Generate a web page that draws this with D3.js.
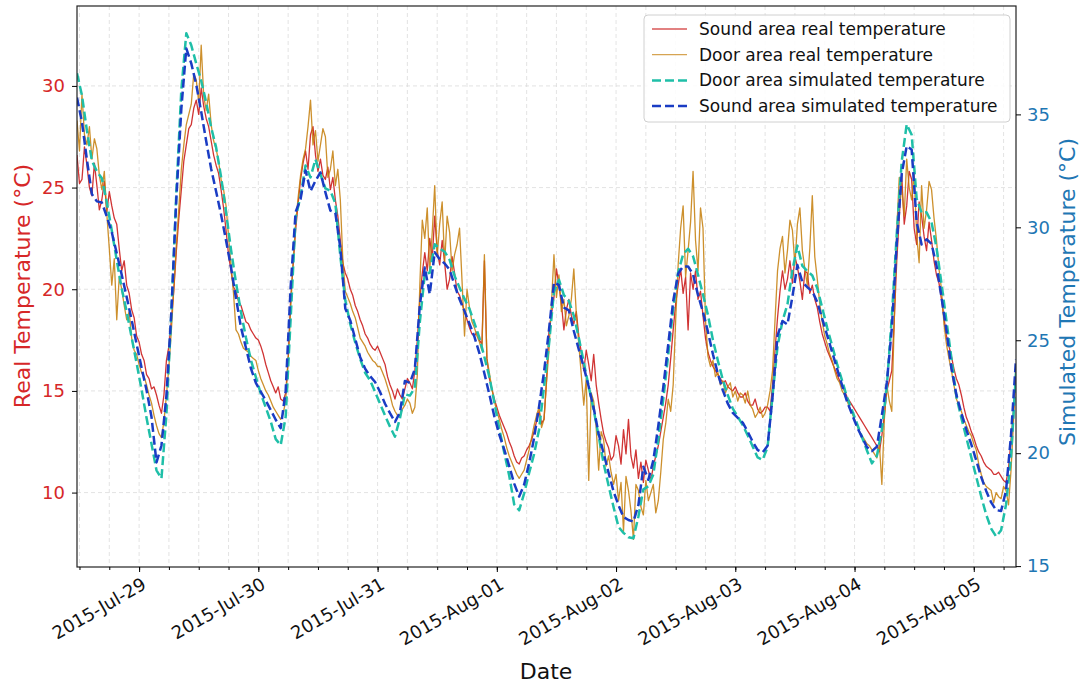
<!DOCTYPE html>
<html>
<head>
<meta charset="utf-8">
<script src="https://cdn.jsdelivr.net/npm/d3@7"></script>
<style>
  body { margin: 0; background: #fff; }
  svg, svg text { font-family: "DejaVu Sans", sans-serif; }
</style>
</head>
<body>
<svg width="1080" height="684"></svg>
<script>
// samples start 2015-07-28 11:30 (UTC); real every 30 min, simulated every hour
const startTime = Date.UTC(2015, 6, 28, 11, 30);
const endTime = Date.UTC(2015, 7, 5, 8, 30);
const realStepMin = 30;
const simStepMin = 60;

// real temperatures (left axis, °C)
const soundReal = [
  26.6, 25.2, 25.4, 27.0, 26.1, 25.0, 24.6, 26.2, 25.1, 23.9,
  24.4, 25.3, 23.8, 24.8, 24.1, 23.5, 23.2, 22.0, 20.9, 21.4,
  20.2, 19.8, 19.0, 18.6, 17.7, 17.4, 16.8, 16.5, 15.8, 15.6,
  15.1, 15.2, 14.8, 14.3, 13.9, 14.8, 16.5, 17.2, 18.5, 20.0,
  21.9, 23.5, 24.9, 26.3, 27.1, 27.9, 28.1, 28.9, 29.3, 28.6,
  29.9, 29.0, 28.4, 28.0, 27.3, 26.6, 26.1, 25.7, 24.9, 24.0,
  22.9, 21.7, 20.9, 20.1, 19.9, 19.4, 19.2, 18.8, 18.4, 18.3,
  18.0, 17.8, 17.6, 17.5, 17.2, 16.8, 16.3, 15.9, 15.5, 15.2,
  14.9, 15.2, 14.6, 14.5, 14.9, 16.5, 19.5, 21.2, 22.9, 24.2,
  25.4, 26.2, 26.8, 25.9, 27.6, 28.0, 26.6, 25.8, 26.4, 25.6,
  25.4, 26.0, 24.9, 25.5, 24.4, 23.6, 22.4, 21.3, 20.8, 20.5,
  20.0, 19.7, 19.2, 18.9, 18.5, 18.2, 17.8, 17.6, 17.3, 17.1,
  17.0, 17.2, 16.9, 16.6, 16.3, 15.7, 15.3, 15.0, 14.6, 15.1,
  14.8, 14.6, 15.1, 15.6, 15.4, 15.1, 16.0, 17.5, 19.5, 20.8,
  21.8, 20.9, 22.5, 21.5, 23.6, 21.9, 21.2, 22.4, 21.3, 20.0,
  20.5, 21.6, 20.8, 19.9, 19.7, 19.3, 18.9, 18.5, 18.1, 17.8,
  17.7, 17.9, 17.5, 17.3, 21.4, 16.6, 15.6, 15.1, 14.6, 14.2,
  13.8, 13.5, 13.2, 12.9, 12.5, 12.2, 11.8, 11.5, 11.4, 11.7,
  11.8, 12.1, 12.3, 12.6, 13.0, 13.5, 14.0, 13.4, 13.6, 15.5,
  18.0, 18.8, 19.6, 21.0, 20.2, 19.3, 18.0, 19.0, 19.5, 18.7,
  18.3, 18.9, 17.7, 16.9, 16.0, 17.0, 16.3, 15.5, 16.8, 15.3,
  14.4, 13.6, 12.9, 12.5, 12.2, 11.6, 11.8, 12.8, 12.3, 11.4,
  13.1, 11.9, 13.6, 11.8, 11.2, 12.1, 10.7, 11.5, 10.5, 11.6,
  11.1, 10.6, 11.3, 11.8, 12.3, 13.0, 13.7, 14.4, 15.3, 16.6,
  18.0, 19.3, 20.2, 21.0, 19.8, 20.6, 18.0, 20.8, 20.0, 20.9,
  19.5, 19.9, 18.7, 17.6, 16.9, 16.5, 16.2, 16.0, 15.8, 15.6,
  15.4, 15.5, 15.2, 15.1, 15.0, 15.2, 14.9, 14.7, 14.7, 14.9,
  14.5, 14.3, 14.3, 14.6, 14.1, 13.9, 14.0, 14.2, 14.2, 14.0,
  15.3, 17.0, 18.6, 19.9, 20.9, 20.0, 20.5, 21.4, 20.3, 21.6,
  21.1, 20.4, 19.5, 20.9, 20.8, 19.8, 20.2, 19.5, 19.1, 18.4,
  17.8, 17.4, 17.0, 16.7, 16.4, 16.1, 15.8, 15.5, 15.2, 15.0,
  14.7, 14.5, 14.3, 14.1, 13.9, 13.7, 13.5, 13.3, 13.1, 12.9,
  12.7, 12.5, 12.3, 12.0, 12.8, 13.8, 15.0, 15.5, 16.0, 18.5,
  21.4, 23.5, 25.6, 23.2, 24.1, 25.8, 25.4, 23.0, 22.2, 24.3,
  23.6, 22.6, 21.9, 23.3, 22.4, 21.4, 20.7, 20.3, 19.5, 18.6,
  17.7, 17.2, 16.7, 16.1, 15.6, 15.3, 14.8, 14.2, 13.7, 13.4,
  13.0, 12.7, 12.3, 12.0, 11.8, 11.5, 11.3, 11.2, 11.1, 10.9,
  10.9, 11.0, 10.8, 10.6, 10.5, 11.2, 12.6, 14.0, 16.0
];
const doorReal = [
  28.3, 26.8, 29.6, 27.6, 27.1, 28.0, 26.4, 27.4, 26.9, 25.6,
  24.9, 25.8, 23.7, 22.0, 20.2, 21.5, 18.5, 20.6, 20.0, 19.2,
  18.5, 18.9, 17.6, 17.0, 16.8, 16.3, 15.9, 15.7, 15.3, 14.8,
  14.4, 13.8, 13.3, 12.9, 12.7, 13.5, 14.8, 16.2, 18.0, 20.1,
  22.2, 24.0, 25.9, 27.1, 28.1, 28.6, 29.1, 30.6, 30.3, 29.2,
  32.0, 29.5, 28.8, 29.6, 28.1, 27.3, 26.9, 26.3, 25.4, 24.9,
  24.1, 22.6, 21.2, 19.8, 18.0, 17.8, 17.4, 17.1, 17.0, 16.9,
  16.7, 16.6, 16.5, 16.0, 15.6, 15.3, 15.0, 14.8, 14.5, 14.2,
  14.0, 13.8, 13.6, 13.9, 14.5, 16.5, 19.0, 21.3, 23.2, 24.5,
  25.6, 26.4, 26.9, 28.0, 29.3, 27.1, 27.8, 26.3, 27.1, 27.9,
  27.5, 25.5, 25.9, 26.8, 25.1, 25.9, 24.4, 21.5, 19.9, 19.6,
  19.3, 18.9, 18.6, 18.1, 17.6, 17.4, 17.2, 16.9, 16.7, 16.5,
  16.4, 16.2, 16.2, 15.9, 15.6, 15.2, 14.8, 14.3, 14.0, 13.8,
  13.8, 14.1, 14.3, 14.6, 14.4, 13.9, 14.2, 15.8, 20.2, 23.4,
  22.5, 24.0, 20.9, 22.8, 25.1, 21.6, 23.2, 24.3, 21.3, 23.6,
  22.8, 20.9, 21.7, 22.2, 23.0, 20.4, 17.7, 20.0, 19.1, 18.4,
  18.1, 17.7, 17.4, 17.0, 21.7, 16.6, 15.9, 15.1, 14.5, 14.0,
  13.6, 13.1, 12.7, 12.2, 11.8, 11.5, 11.2, 10.9, 10.7, 10.9,
  11.1, 11.6, 12.1, 12.7, 13.3, 13.8, 14.2, 13.2, 13.6, 15.4,
  17.0, 19.3, 21.7, 19.6, 20.7, 18.9, 19.5, 18.2, 18.7, 19.5,
  21.0, 18.8, 17.3, 15.8, 14.3, 15.6, 10.6, 14.9, 14.5, 13.2,
  11.1, 13.0, 12.6, 11.3, 11.8, 11.0, 10.4, 10.9, 9.6, 10.5,
  8.1, 10.8, 10.1, 9.1, 7.7, 10.4, 10.1, 9.3, 8.9, 10.6,
  9.6, 10.0, 10.4, 9.0, 9.6, 11.0, 12.6, 13.4, 14.6, 14.0,
  15.3, 18.5, 21.2, 23.0, 24.1, 20.6, 21.9, 23.3, 25.8, 22.4,
  20.9, 24.0, 23.0, 18.5, 16.7, 16.2, 16.5, 15.7, 15.9, 15.3,
  15.5, 14.9, 15.2, 15.4, 14.7, 15.0, 14.5, 14.9, 14.8, 14.4,
  15.0, 14.3, 14.1, 13.7, 13.9, 14.2, 13.7, 13.9, 14.3, 15.0,
  16.0, 18.5, 20.9, 22.0, 22.6, 20.8, 21.9, 23.4, 22.9, 21.2,
  23.2, 24.0, 21.9, 21.0, 20.2, 22.0, 24.6, 21.6, 20.5, 19.3,
  18.4, 17.7, 17.3, 16.8, 16.5, 16.0, 15.6, 15.4, 15.0, 14.8,
  14.5, 14.2, 13.9, 13.6, 13.3, 13.0, 12.8, 12.6, 12.4, 12.3,
  12.1, 11.9, 11.7, 12.4, 10.4, 13.6, 15.3, 14.5, 14.0, 18.5,
  22.9, 25.5, 24.9, 23.6, 26.4, 25.0, 24.4, 25.7, 22.7, 21.3,
  25.1, 23.0, 23.9, 25.3, 24.9, 23.5, 22.4, 21.0, 20.0, 18.3,
  17.3, 16.6, 16.0, 15.3, 14.6, 14.3, 14.0, 13.6, 13.3, 13.0,
  12.8, 12.4, 12.1, 11.4, 10.9, 10.5, 10.3, 10.2, 10.1, 9.5,
  10.0, 9.8, 9.7, 10.3, 10.1, 9.4, 11.1, 13.5, 16.3
];

// simulated temperatures (right axis, °C)
const doorSim = [
  36.82, 35.84, 34.27, 32.94, 32.48, 32.17, 31.11, 29.86, 28.54, 27.29,
  26.27, 25.12, 23.98, 22.81, 21.56, 20.41, 19.24, 18.88, 21.72, 26.23,
  31.55, 36.09, 38.59, 38.06, 37.25, 36.49, 35.53, 34.43, 33.54, 32.23,
  30.68, 29.01, 27.55, 26.26, 25.12, 24.13, 23.37, 22.63, 22.02, 21.40,
  20.62, 20.36, 21.61, 25.94, 30.43, 31.38, 32.74, 32.21, 33.01, 32.35,
  31.72, 31.62, 31.06, 28.73, 26.77, 25.72, 24.90, 24.17, 23.56, 23.22,
  22.71, 22.19, 21.67, 21.17, 20.73, 21.55, 22.61, 22.55, 22.89, 25.79,
  27.93, 27.99, 29.25, 29.06, 28.92, 28.56, 27.85, 27.33, 26.83, 26.39,
  25.76, 25.10, 24.26, 23.37, 22.25, 21.08, 20.02, 19.00, 17.73, 17.47,
  18.22, 19.12, 19.96, 21.04, 22.93, 24.82, 27.15, 27.68, 27.00, 26.74,
  26.08, 25.11, 24.02, 22.95, 21.91, 20.75, 19.54, 18.56, 17.61, 16.73,
  16.47, 16.28, 16.23, 17.20, 18.40, 18.53, 19.06, 20.58, 22.39, 24.36,
  26.39, 28.01, 28.80, 29.05, 28.72, 27.90, 27.02, 26.11, 25.01, 24.09,
  23.24, 22.57, 21.97, 21.61, 21.24, 20.79, 20.30, 19.81, 19.70, 20.27,
  22.55, 24.73, 25.85, 26.59, 28.10, 29.19, 28.29, 28.06, 27.87, 27.30,
  26.43, 25.55, 24.75, 23.94, 23.21, 22.47, 21.89, 21.31, 20.71, 20.12,
  19.55, 19.88, 21.05, 22.95, 26.03, 29.72, 32.92, 34.56, 34.10, 31.27,
  30.64, 30.67, 30.22, 29.10, 27.51, 25.86, 24.21, 22.51, 21.56, 20.69,
  19.82, 18.95, 18.08, 17.28, 16.66, 16.31, 16.59, 17.73, 19.86, 23.56
];
const soundSim = [
  35.75, 34.65, 32.99, 31.47, 31.15, 31.10, 30.48, 29.78, 28.85, 27.90,
  26.91, 25.90, 24.83, 23.78, 22.79, 21.60, 19.59, 20.34, 22.54, 26.29,
  31.29, 35.25, 37.92, 37.26, 36.32, 35.12, 33.82, 32.59, 31.59, 30.56,
  29.42, 28.23, 26.86, 25.58, 24.67, 23.76, 23.11, 22.72, 22.33, 21.91,
  21.48, 21.11, 22.75, 27.35, 30.68, 31.25, 32.52, 31.60, 32.06, 32.43,
  31.55, 30.74, 30.64, 29.09, 26.41, 25.88, 25.06, 24.25, 23.74, 23.41,
  23.15, 22.71, 22.19, 21.77, 21.38, 21.81, 23.20, 23.11, 23.73, 26.53,
  28.22, 27.04, 28.90, 28.59, 28.40, 28.12, 27.44, 26.81, 26.29, 25.73,
  25.15, 24.42, 23.53, 22.60, 21.63, 20.82, 20.16, 19.43, 18.65, 18.08,
  18.61, 19.55, 20.67, 22.06, 23.59, 25.46, 27.56, 27.44, 26.45, 26.32,
  25.41, 24.59, 23.81, 22.94, 21.99, 20.86, 19.99, 19.13, 18.30, 17.69,
  17.17, 17.04, 16.97, 17.71, 19.40, 18.82, 19.68, 21.21, 22.91, 24.81,
  26.73, 27.95, 28.27, 28.27, 27.91, 27.00, 26.25, 25.37, 24.38, 23.51,
  22.78, 22.19, 21.78, 21.56, 21.35, 20.95, 20.51, 20.14, 20.03, 20.33,
  22.49, 25.21, 25.85, 25.70, 26.93, 28.33, 27.58, 27.35, 27.17, 26.69,
  25.95, 25.21, 24.47, 23.73, 23.00, 22.28, 21.72, 21.15, 20.71, 20.27,
  20.09, 20.29, 21.68, 23.13, 25.52, 29.30, 32.37, 33.60, 33.44, 30.24,
  29.24, 29.47, 29.27, 28.30, 26.91, 25.43, 23.76, 22.59, 21.77, 21.05,
  20.39, 19.68, 18.94, 18.33, 17.82, 17.48, 17.44, 18.35, 20.80, 24.17
];

const leftTicks = [10, 15, 20, 25, 30];
const rightTicks = [15, 20, 25, 30, 35];

const svg = d3.select("svg");
const plotLeft = 77, plotRight = 1016, plotTop = 6, plotBottom = 567;
const font = "DejaVu Sans";

const x = d3.scaleUtc()
    .domain([new Date(startTime), new Date(endTime)])
    .range([plotLeft, plotRight]);
const yL = d3.scaleLinear().domain([6.34, 33.93]).range([plotBottom, plotTop]);
const yR = d3.scaleLinear().domain([14.96, 39.8]).range([plotBottom, plotTop]);

// grid
const minorTimes = d3.utcHour.every(6).range(x.domain()[0], x.domain()[1]);
svg.append("g").selectAll("line")
    .data(minorTimes)
    .enter().append("line")
    .attr("x1", d => x(d)).attr("x2", d => x(d))
    .attr("y1", plotTop).attr("y2", plotBottom)
    .attr("stroke", "#dcdcdc").attr("stroke-width", 0.8)
    .attr("stroke-dasharray", "4,3");
svg.append("g").selectAll("line")
    .data(leftTicks)
    .enter().append("line")
    .attr("x1", plotLeft).attr("x2", plotRight)
    .attr("y1", d => yL(d)).attr("y2", d => yL(d))
    .attr("stroke", "#dcdcdc").attr("stroke-width", 0.8)
    .attr("stroke-dasharray", "4,3");

// lines
svg.append("clipPath").attr("id", "plot")
    .append("rect").attr("x", plotLeft).attr("y", plotTop)
    .attr("width", plotRight - plotLeft).attr("height", plotBottom - plotTop);

function drawLine(s) {
    const line = d3.line()
        .x((d, i) => x(new Date(startTime + i * s.step * 60000)))
        .y(d => s.y(d));
    svg.append("path")
        .datum(s.values)
        .attr("clip-path", "url(#plot)")
        .attr("fill", "none")
        .attr("stroke", s.color)
        .attr("stroke-width", s.width)
        .attr("stroke-opacity", s.opacity)
        .attr("stroke-dasharray", s.dash)
        .attr("stroke-linejoin", "round")
        .attr("d", line);
}

const series = [
    { name: "Sound area real temperature", values: soundReal, step: realStepMin, y: yL, color: "#c81010", width: 1.3, opacity: 0.85, dash: null },
    { name: "Door area real temperature", values: doorReal, step: realStepMin, y: yL, color: "#c47d08", width: 1.3, opacity: 0.85, dash: null },
    { name: "Door area simulated temperature", values: doorSim, step: simStepMin, y: yR, color: "#1fbfa8", width: 2.5, opacity: 1, dash: "9,4" },
    { name: "Sound area simulated temperature", values: soundSim, step: simStepMin, y: yR, color: "#1a3cc4", width: 2.5, opacity: 1, dash: "9,4" }
];
series.forEach(drawLine);

// frame
svg.append("rect")
    .attr("x", plotLeft).attr("y", plotTop)
    .attr("width", plotRight - plotLeft).attr("height", plotBottom - plotTop)
    .attr("fill", "none").attr("stroke", "#222").attr("stroke-width", 1.2);

// x axis
const days = d3.utcDay.range(x.domain()[0], x.domain()[1]);
svg.append("g")
    .attr("transform", `translate(0,${plotBottom})`)
    .call(d3.axisBottom(x).tickValues(minorTimes).tickSize(3).tickFormat(""))
    .call(g => g.select(".domain").remove());
const xAxis = svg.append("g")
    .attr("transform", `translate(0,${plotBottom})`)
    .attr("font-family", font)
    .call(d3.axisBottom(x).tickValues(days).tickSize(5).tickFormat(d3.utcFormat("%Y-%b-%d")))
    .call(g => g.select(".domain").remove());
xAxis.selectAll("text")
    .attr("font-family", font)
    .attr("font-size", 18)
    .attr("fill", "#111")
    .attr("text-anchor", "end")
    .attr("y", 0).attr("dy", "0.76em")
    .attr("transform", "translate(1,9) rotate(-30)");

// left axis
const lAxis = svg.append("g")
    .attr("transform", `translate(${plotLeft},0)`)
    .call(d3.axisLeft(yL).tickValues(leftTicks).tickSize(5).tickPadding(7))
    .call(g => g.select(".domain").remove());
lAxis.selectAll("text").attr("font-family", font).attr("font-size", 18).attr("fill", "#d62728");

// right axis
const rAxis = svg.append("g")
    .attr("transform", `translate(${plotRight},0)`)
    .call(d3.axisRight(yR).tickValues(rightTicks).tickSize(5).tickPadding(6))
    .call(g => g.select(".domain").remove());
rAxis.selectAll("text").attr("font-family", font).attr("font-size", 18).attr("fill", "#1f77b4");

// axis titles
svg.append("text")
    .attr("transform", "translate(30,286) rotate(-90)")
    .attr("text-anchor", "middle").attr("font-size", 22).attr("fill", "#d62728")
    .text("Real Temperature (°C)");
svg.append("text")
    .attr("transform", "translate(1075,292) rotate(-90)")
    .attr("text-anchor", "middle").attr("font-size", 22).attr("fill", "#1f77b4")
    .text("Simulated Temperature (°C)");
svg.append("text")
    .attr("x", 546).attr("y", 679)
    .attr("text-anchor", "middle").attr("font-size", 22).attr("fill", "#111")
    .text("Date");

// legend
const legend = svg.append("g").attr("transform", "translate(644,15)");
legend.append("rect")
    .attr("width", 366).attr("height", 107).attr("rx", 4)
    .attr("fill", "#fff").attr("fill-opacity", 0.85)
    .attr("stroke", "#d0d0d0");
const item = legend.selectAll("g.item")
    .data(series)
    .enter().append("g")
    .attr("class", "item")
    .attr("transform", (d, i) => `translate(0,${14 + i * 25.7})`);
item.append("line")
    .attr("x1", 8).attr("x2", 43)
    .attr("stroke", d => d.color)
    .attr("stroke-width", d => d.width)
    .attr("stroke-opacity", d => d.opacity === 1 ? 1 : 0.7)
    .attr("stroke-dasharray", d => d.dash);
item.append("text")
    .attr("x", 55).attr("y", 6)
    .attr("font-size", 17).attr("fill", "#111")
    .text(d => d.name);
</script>
</body>
</html>
